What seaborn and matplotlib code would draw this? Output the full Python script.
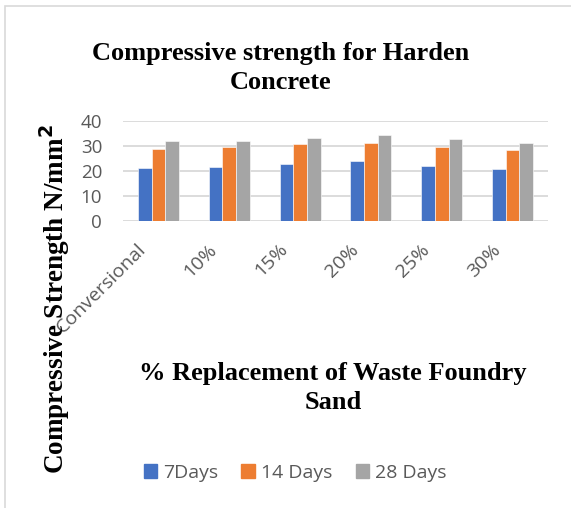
import matplotlib
matplotlib.use("Agg")
import matplotlib.pyplot as plt
import matplotlib.transforms as mtransforms
from matplotlib.patches import Rectangle
import seaborn as sns
import pandas as pd

# data
categories = ["Conversional", "10%", "15%", "20%", "25%", "30%"]
days_7 = [21.0, 21.7, 22.6, 23.8, 21.8, 20.8]
days_14 = [28.9, 29.6, 30.6, 31.3, 29.6, 28.5]
days_28 = [32.0, 32.1, 33.3, 34.5, 32.8, 31.2]
series = ["7Days", "14 Days", "28 Days"]
colors = ["#4472C4", "#ED7D31", "#A5A5A5"]

rows = []
for name, vals in zip(series, [days_7, days_14, days_28]):
    for cat, v in zip(categories, vals):
        rows.append({"cat": cat, "series": name, "value": v})
df = pd.DataFrame(rows)

sns.set_style("white")
plt.rcParams['font.family'] = ['Open Sans', 'DejaVu Sans']

fig = plt.figure(figsize=(5.71, 5.08), dpi=100)
ax = fig.add_axes([123 / 571, 1 - 220.7 / 508, 425 / 571, 99.7 / 508])

sns.barplot(data=df, x="cat", y="value", hue="series", palette=colors,
            saturation=1, width=0.58, ax=ax, edgecolor="white",
            linewidth=0.4, legend=False, errorbar=None)

ax.set_ylim(0, 40)
ax.set_yticks([0, 10, 20, 30, 40])
ax.yaxis.grid(True, color="#D9D9D9", linewidth=1.3)
ax.set_axisbelow(True)
for s in ax.spines.values():
    s.set_visible(False)
ax.set_xlabel("")
ax.set_ylabel("")
ax.tick_params(axis="y", length=0, pad=15, labelsize=13.5, labelcolor="#595959")
ax.tick_params(axis="x", length=0, pad=0, labelsize=14, labelcolor="#595959")
plt.setp(ax.get_xticklabels(), rotation=45, ha="right", va="center",
         rotation_mode="anchor")
# shift rotated labels so their ends sit left of / below each group like Excel
shift = mtransforms.ScaledTranslation(-0.15, -0.26, fig.dpi_scale_trans)
for lab in ax.get_xticklabels():
    lab.set_transform(lab.get_transform() + shift)

serif = ['Liberation Serif', 'DejaVu Serif']
fig.text(281 / 571, 1 - 68 / 508, "Compressive strength for Harden\nConcrete",
         ha="center", va="center", fontsize=19, fontweight="bold",
         family=serif, linespacing=1.35, color="black")
fig.text(333 / 571, 1 - 388 / 508, "% Replacement of Waste Foundry\nSand",
         ha="center", va="center", fontsize=19, fontweight="bold",
         family=serif, linespacing=1.35, color="black")
fig.text(55 / 571, 1 - 299 / 508, "Compressive Strength N/mm$^\\mathbf{2}$",
         ha="center", va="center", rotation=90, fontsize=19.5,
         fontweight="bold", family=serif, color="black")

# legend
handles = [Rectangle((0, 0), 1, 1, color=c) for c in colors]
fig.legend(handles, series, loc="center", bbox_to_anchor=(295 / 571, 1 - 473 / 508),
           ncol=3, frameon=False, fontsize=14, handlelength=0.7,
           handleheight=0.7, handletextpad=0.3, columnspacing=1.2,
           labelcolor="#595959")

# chart border (top and left visible)
fig.patches.append(Rectangle((5 / 571, -0.1), 1.2, 1.1 - 6 / 508,
                             transform=fig.transFigure, fill=False,
                             edgecolor="#D9D9D9", linewidth=1.2))

fig.savefig("out.png", dpi=100)
